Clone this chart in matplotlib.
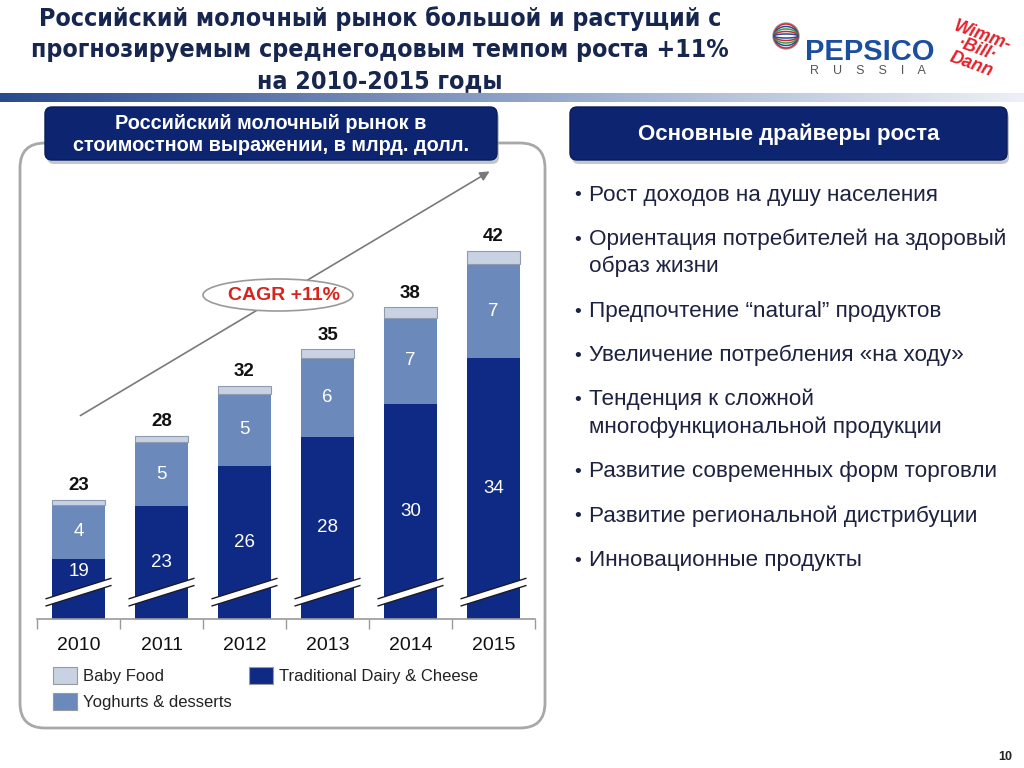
import numpy as np
import matplotlib
matplotlib.use("Agg")
import matplotlib.pyplot as plt
from matplotlib.patches import FancyBboxPatch, Rectangle, Ellipse, Polygon, Circle, Arc
from matplotlib import font_manager

# ---------------- data ----------------
years = ["2010", "2011", "2012", "2013", "2014", "2015"]
dairy = [18.5, 22.5, 25.6, 27.8, 30.3, 33.8]
yoghurts = [4.1, 4.9, 5.5, 6.0, 6.6, 7.2]
baby = [0.4, 0.5, 0.6, 0.7, 0.8, 1.0]
dairy_labels = ["19", "23", "26", "28", "30", "34"]
yoghurt_labels = ["4", "5", "5", "6", "7", "7"]
total_labels = ["23", "28", "32", "35", "38", "42"]
series_names = ["Baby Food", "Traditional Dairy & Cheese", "Yoghurts & desserts"]

title_lines = ["Российский молочный рынок большой и растущий с",
               "прогнозируемым среднегодовым темпом роста +11%",
               "на 2010-2015 годы"]
left_header = "Российский молочный рынок в\nстоимостном выражении, в млрд. долл."
right_header = "Основные драйверы роста"
drivers = [
    "Рост доходов на душу населения",
    "Ориентация потребителей на здоровый\nобраз жизни",
    "Предпочтение “natural” продуктов",
    "Увеличение потребления «на ходу»",
    "Тенденция к сложной\nмногофункциональной продукции",
    "Развитие современных форм торговли",
    "Развитие региональной дистрибуции",
    "Инновационные продукты",
]
cagr_text = "CAGR +11%"

# ---------------- style ----------------
cond = None
for f in font_manager.fontManager.ttflist:
    if (("Narrow" in f.name or "Condensed" in f.name or f.stretch in ("condensed", "semi-condensed", 600, 700))
            and f.weight in ("bold", 700)):
        cond = f
        break
if cond is not None:
    title_font = dict(family=[cond.name, "DejaVu Sans"], fontstretch=cond.stretch, fontsize=17.9)
else:
    title_font = dict(family=["Liberation Sans", "DejaVu Sans"], fontsize=18.5)

plt.rcParams["font.family"] = ["Liberation Sans", "DejaVu Sans"]

C_DARK = "#0f2a84"
C_MID = "#6b89bb"
C_LIGHT = "#c8d2e3"
C_NAVY = "#0d2470"
C_TITLE = "#17264f"
C_TXT = "#1d2240"

W, H = 1024, 768
fig = plt.figure(figsize=(W / 100, H / 100), dpi=100)
fig.patch.set_facecolor("white")

ov = fig.add_axes([0, 0, 1, 1], zorder=0)
ov.set_xlim(0, W)
ov.set_ylim(H, 0)
ov.axis("off")

# title
for i, ln in enumerate(title_lines):
    ov.text(380, 19 + 31 * i, ln, ha="center", va="center", fontweight="bold",
            color=C_TITLE, **title_font)

# gradient band
grad = np.linspace(0, 1, 512)
c0 = np.array([0.16, 0.29, 0.55])
c1 = np.array([0.60, 0.67, 0.80])
c2 = np.array([0.93, 0.94, 0.96])
cols = []
for g in grad:
    if g < 0.55:
        t = g / 0.55
        cols.append(c0 * (1 - t) + c1 * t)
    else:
        t = (g - 0.55) / 0.45
        cols.append(c1 * (1 - t) + c2 * t)
img = np.array(cols)[None, :, :]
ov.imshow(img, extent=[0, W, 102, 93], aspect="auto", zorder=1)

# logos (approximation)
glob = Circle((786, 36), 13, facecolor="white", edgecolor="#9a9a9a", lw=1, zorder=2)
ov.add_patch(glob)
for i, c in enumerate(["#d22630", "#1f4e9c", "#3a9a45", "#d22630", "#1f4e9c"]):
    ov.add_patch(Arc((786, 36), 24, 24 - i * 5, angle=0, theta1=0, theta2=360,
                     color=c, lw=1.1, zorder=3))
ov.text(870, 52, "PEPSICO", ha="center", va="center", fontsize=21, fontweight="bold",
        color="#1c4e9e", zorder=3)
ov.text(868, 71, "R    U    S    S    I    A", ha="center", va="center", fontsize=9,
        color="#555555", zorder=3)
ov.text(977, 50, "Wimm-\n·Bill·\nDann", ha="center", va="center", fontsize=13,
        fontweight="bold", style="italic", color="#e5202a", rotation=-20,
        linespacing=0.85, zorder=3)

# left panel border
panel = FancyBboxPatch((20, 143), 525, 585, boxstyle="round,pad=0,rounding_size=25",
                       facecolor="white", edgecolor="#a8a8a8", lw=2, zorder=1)
ov.add_patch(panel)

# header boxes with shadow
for (x0, y0, w, h, txt, fs) in [(45, 107, 452, 53, left_header, 14.3),
                                 (570, 107, 437, 53, right_header, 16)]:
    sh = FancyBboxPatch((x0 + 2, y0 + 4), w, h, boxstyle="round,pad=0,rounding_size=7",
                        facecolor="#9aa0ad", edgecolor="none", alpha=0.6, zorder=2)
    ov.add_patch(sh)
    bx = FancyBboxPatch((x0, y0), w, h, boxstyle="round,pad=0,rounding_size=7",
                        facecolor=C_NAVY, edgecolor="#0a1c58", lw=1, zorder=3)
    ov.add_patch(bx)
    ov.text(x0 + w / 2, y0 + h / 2 + 1, txt, ha="center", va="center", fontsize=fs,
            fontweight="bold", color="white", linespacing=1.22, zorder=4)

# bullets
y = 195
for d in drivers:
    parts = d.split("\n")
    ov.text(574, y + 1, "•", ha="left", va="center", fontsize=14, color=C_TXT)
    for k, p in enumerate(parts):
        ov.text(589, y + 27.5 * k, p, ha="left", va="center", fontsize=16.2, color=C_TXT)
    y += 44.3 + 27.5 * (len(parts) - 1)

# arrow and CAGR
ov.annotate("", xy=(492, 170), xytext=(78, 417),
            arrowprops=dict(arrowstyle="-|>", color="#7a7a7a", lw=1.2,
                            mutation_scale=14), zorder=2)
ell = Ellipse((278, 295), 150, 32, facecolor="white", edgecolor="#9a9a9a", lw=1.2, zorder=3)
ov.add_patch(ell)
ov.text(284, 295, cagr_text, ha="center", va="center", fontsize=14, fontweight="bold",
        color="#d9231d", zorder=4)

# legend
leg_items = [(53, 667, C_LIGHT, series_names[0]), (249, 667, C_DARK, series_names[1]),
             (53, 693, C_MID, series_names[2])]
for (lx, ly, col, name) in leg_items:
    ov.add_patch(Rectangle((lx, ly), 24, 17, facecolor=col, edgecolor="#9a9a9a", lw=0.8, zorder=3))
    ov.text(lx + 30, ly + 9, name, ha="left", va="center", fontsize=12, color="#222222", zorder=3)

ov.text(1005, 757, "10", ha="center", va="center", fontsize=9, fontweight="bold", color="#222222")

# ---------------- bar chart ----------------
px_per_unit = 13.1
base_px, top_px = 619, 230
y0v = 13.9
y1v = y0v + (base_px - top_px) / px_per_unit
ax = fig.add_axes([37 / W, (H - base_px) / H, (535 - 37) / W, (base_px - top_px) / H], zorder=2)
ax.set_facecolor("none")
x = np.arange(len(years))
bw = 0.627
d = np.array(dairy)
yg = np.array(yoghurts)
bb = np.array(baby)
ax.bar(x, d, bw, color=C_DARK, edgecolor="none", zorder=2)
ax.bar(x, yg, bw, bottom=d, color=C_MID, edgecolor="none", zorder=2)
ax.bar(x, bb, bw, bottom=d + yg, color=C_LIGHT, edgecolor="#8f9bb0", lw=0.8, zorder=2)
ax.set_xlim(-0.5, 5.5)
ax.set_ylim(y0v, y1v)

for s in ["top", "right", "left"]:
    ax.spines[s].set_visible(False)
ax.spines["bottom"].set_color("#9a9a9a")
ax.spines["bottom"].set_linewidth(1.2)
ax.set_yticks([])
ax.set_xticks(np.arange(-0.5, 6.0, 1.0), minor=False)
ax.set_xticklabels([])
ax.tick_params(axis="x", length=7, color="#9a9a9a", width=1)
ax.set_xticks(x, minor=True)
ax.set_xticklabels(years, minor=True, fontsize=14, color="#111111")
ax.tick_params(axis="x", which="minor", length=0, pad=13)

# break marks
for xi in x:
    half = 0.39
    yc = 15.95
    slope = 1.55
    thick = 0.55
    xl, xr = xi - half, xi + half
    yl, yr = yc - slope / 2, yc + slope / 2
    poly = Polygon([[xl, yl - thick / 2], [xr, yr - thick / 2], [xr, yr + thick / 2], [xl, yl + thick / 2]],
                   closed=True, facecolor="white", edgecolor="none", zorder=3)
    ax.add_patch(poly)
    ax.plot([xl, xr], [yl - thick / 2, yr - thick / 2], color="#1a1a2a", lw=1.0, zorder=4)
    ax.plot([xl, xr], [yl + thick / 2, yr + thick / 2], color="#1a1a2a", lw=1.0, zorder=4)

for i in range(len(years)):
    ydl = max((y0v + d[i]) / 2, 17.55)
    ax.text(x[i], ydl, dairy_labels[i], ha="center", va="center", fontsize=13.5, color="white", zorder=5)
    ax.text(x[i], d[i] + yg[i] / 2, yoghurt_labels[i], ha="center", va="center", fontsize=13.5,
            color="white", zorder=5)
    ax.annotate(total_labels[i], (x[i], d[i] + yg[i] + bb[i]), xytext=(0, 4),
                textcoords="offset points", ha="center", va="bottom", fontsize=13.5,
                fontweight="bold", color="#111111", zorder=5)

fig.savefig("out.png", dpi=100)
